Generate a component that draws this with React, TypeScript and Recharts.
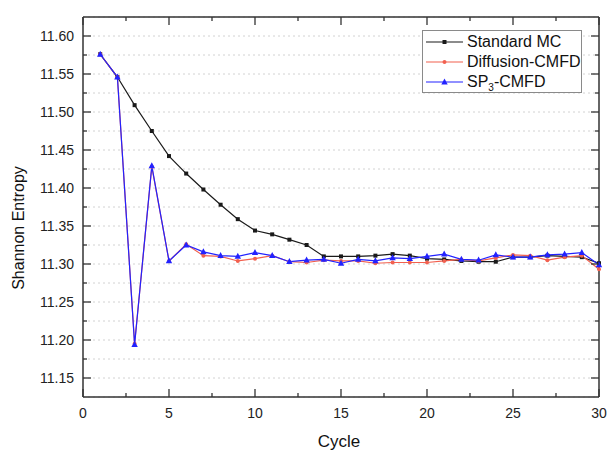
import React from 'react';
import { LineChart, Line, XAxis, YAxis, CartesianGrid, Legend } from 'recharts';

const cycles = [1, 2, 3, 4, 5, 6, 7, 8, 9, 10, 11, 12, 13, 14, 15, 16, 17, 18, 19, 20, 21, 22, 23, 24, 25, 26, 27, 28, 29, 30];

const standardMC = [
  11.576, 11.546, 11.509, 11.475, 11.442, 11.419, 11.398, 11.378, 11.359, 11.344,
  11.339, 11.332, 11.325, 11.310, 11.310, 11.310, 11.311, 11.313, 11.311, 11.307,
  11.306, 11.304, 11.303, 11.303, 11.309, 11.309, 11.311, 11.310, 11.309, 11.301,
];

const diffusionCMFD = [
  11.576, 11.546, 11.195, 11.428, 11.304, 11.326, 11.311, 11.310, 11.304, 11.307,
  11.311, 11.303, 11.302, 11.305, 11.304, 11.304, 11.301, 11.302, 11.302, 11.302,
  11.304, 11.306, 11.304, 11.308, 11.312, 11.311, 11.305, 11.309, 11.311, 11.293,
];

const sp3CMFD = [
  11.576, 11.546, 11.194, 11.429, 11.304, 11.325, 11.316, 11.311, 11.310, 11.315,
  11.311, 11.303, 11.305, 11.306, 11.301, 11.306, 11.304, 11.308, 11.307, 11.310,
  11.313, 11.306, 11.305, 11.312, 11.309, 11.309, 11.312, 11.313, 11.315, 11.299,
];

const xTicks = [0, 2.5, 5, 7.5, 10, 12.5, 15, 17.5, 20, 22.5, 25, 27.5, 30];
const yTicks = [
  11.15, 11.175, 11.2, 11.225, 11.25, 11.275, 11.3, 11.325, 11.35, 11.375,
  11.4, 11.425, 11.45, 11.475, 11.5, 11.525, 11.55, 11.575, 11.6,
];

const data = cycles.map((c, i) => ({
  cycle: c,
  mc: standardMC[i],
  diff: diffusionCMFD[i],
  sp3: sp3CMFD[i],
}));

const FONT = 'Arial, "Liberation Sans", Helvetica, sans-serif';
const AXIS_COLOR = '#333';
const BLACK = '#1a1a1a';
const RED = '#f2604f';
const BLUE = '#2222ff';

const isMajorY = (v: number) => Math.abs(v * 20 - Math.round(v * 20)) < 1e-6;
const isMajorX = (v: number) => Math.abs(v / 5 - Math.round(v / 5)) < 1e-6;

const LeftTick = (props: any) => {
  const { x, y, payload } = props;
  const v = payload.value;
  const major = isMajorY(v);
  return (
    <g>
      <line x1={x} y1={y} x2={x + (major ? 8 : 4)} y2={y} stroke={AXIS_COLOR} strokeWidth={1.3} />
      {major && (
        <text x={x - 9} y={y} dominantBaseline="central" textAnchor="end" fontSize={14} fill="#222" fontFamily={FONT}>
          {v.toFixed(2)}
        </text>
      )}
    </g>
  );
};

const RightTick = (props: any) => {
  const { x, y, payload } = props;
  const major = isMajorY(payload.value);
  return <line x1={x} y1={y} x2={x - (major ? 8 : 4)} y2={y} stroke={AXIS_COLOR} strokeWidth={1.3} />;
};

const BottomTick = (props: any) => {
  const { x, y, payload } = props;
  const v = payload.value;
  const major = isMajorX(v);
  return (
    <g>
      <line x1={x} y1={y} x2={x} y2={y - (major ? 8 : 4)} stroke={AXIS_COLOR} strokeWidth={1.3} />
      {major && (
        <text x={x} y={y + 16} dominantBaseline="central" textAnchor="middle" fontSize={14} fill="#222" fontFamily={FONT}>
          {String(v)}
        </text>
      )}
    </g>
  );
};

const TopTick = (props: any) => {
  const { x, y, payload } = props;
  const major = isMajorX(payload.value);
  return <line x1={x} y1={y} x2={x} y2={y + (major ? 8 : 4)} stroke={AXIS_COLOR} strokeWidth={1.3} />;
};

const SquareDot = (p: any) => (
  <rect key={`sq-${p.index}`} x={p.cx - 2} y={p.cy - 2} width={4} height={4} fill={BLACK} />
);
const CircleDot = (p: any) => (
  <circle key={`ci-${p.index}`} cx={p.cx} cy={p.cy} r={2} fill={RED} />
);
const TriDot = (p: any) => (
  <polygon
    key={`tr-${p.index}`}
    points={`${p.cx},${p.cy - 3.6} ${p.cx - 3.2},${p.cy + 2.4} ${p.cx + 3.2},${p.cy + 2.4}`}
    fill={BLUE}
  />
);

const YTitle = () => (
  <text
    x={18}
    y={228}
    transform="rotate(-90 18 228)"
    textAnchor="middle"
    dominantBaseline="central"
    fontSize={16}
    fill="#111"
    fontFamily={FONT}
  >
    Shannon Entropy
  </text>
);

const XTitle = () => (
  <text x={339} y={441} textAnchor="middle" dominantBaseline="central" fontSize={17} fill="#111" fontFamily={FONT}>
    Cycle
  </text>
);

const legendItems = [
  { key: 'mc', color: BLACK, shape: 'square' },
  { key: 'diff', color: RED, shape: 'circle' },
  { key: 'sp3', color: BLUE, shape: 'triangle' },
];

const LegendLabel = ({ k }: { k: string }) => {
  if (k === 'mc') return <span>Standard MC</span>;
  if (k === 'diff') return <span>Diffusion-CMFD</span>;
  return (
    <span>
      SP<sub style={{ fontSize: 10, verticalAlign: 'sub', lineHeight: 0 }}>3</sub>-CMFD
    </span>
  );
};

const LegendBox = () => (
  <div
    style={{
      width: 160,
      height: 63,
      boxSizing: 'border-box',
      border: '1px solid #8a8a8a',
      background: '#fff',
      fontFamily: FONT,
      fontSize: 16,
      color: '#111',
      paddingTop: 1,
    }}
  >
    {legendItems.map((it) => (
      <div key={it.key} style={{ display: 'flex', alignItems: 'center', height: 20 }}>
        <svg width={44} height={20} style={{ display: 'block' }}>
          <line x1={3} y1={10} x2={40} y2={10} stroke={it.color} strokeWidth={1.2} />
          {it.shape === 'square' && <rect x={19.5} y={8} width={4} height={4} fill={it.color} />}
          {it.shape === 'circle' && <circle cx={21.5} cy={10} r={2} fill={it.color} />}
          {it.shape === 'triangle' && <polygon points="21.5,6.4 18.3,12.4 24.7,12.4" fill={it.color} />}
        </svg>
        <LegendLabel k={it.key} />
      </div>
    ))}
  </div>
);

export default function App() {
  return (
    <div style={{ position: 'absolute', left: 0, top: 0, width: 608, height: 451 }}>
      <LineChart width={608} height={451} data={data} margin={{ top: 8, right: 0, bottom: 0, left: 8 }}>
        <CartesianGrid vertical={false} stroke="#d2d2d2" strokeDasharray="2 3" />
        <XAxis
          dataKey="cycle"
          type="number"
          domain={[0, 30]}
          ticks={xTicks}
          interval={0}
          height={54}
          tickSize={0}
          tickMargin={0}
          tickLine={false}
          tick={BottomTick}
          axisLine={{ stroke: AXIS_COLOR, strokeWidth: 1.5 }}
          label={XTitle}
        />
        <XAxis
          xAxisId="top"
          orientation="top"
          dataKey="cycle"
          type="number"
          domain={[0, 30]}
          ticks={xTicks}
          interval={0}
          height={9}
          tickSize={0}
          tickMargin={0}
          tickLine={false}
          tick={TopTick}
          axisLine={{ stroke: AXIS_COLOR, strokeWidth: 1.5 }}
        />
        <YAxis
          type="number"
          domain={[11.125, 11.625]}
          allowDataOverflow
          ticks={yTicks}
          interval={0}
          width={75}
          tickSize={0}
          tickMargin={0}
          tickLine={false}
          tick={LeftTick}
          axisLine={{ stroke: AXIS_COLOR, strokeWidth: 1.5 }}
          label={YTitle}
        />
        <YAxis
          yAxisId="right"
          orientation="right"
          type="number"
          domain={[11.125, 11.625]}
          allowDataOverflow
          ticks={yTicks}
          interval={0}
          width={9}
          tickSize={0}
          tickMargin={0}
          tickLine={false}
          tick={RightTick}
          axisLine={{ stroke: AXIS_COLOR, strokeWidth: 1.5 }}
        />
        <Legend
          layout="vertical"
          align="center"
          verticalAlign="middle"
          content={LegendBox}
          wrapperStyle={{ position: 'absolute', left: 422, top: 30, width: 160, height: 63 }}
        />
        <Line
          type="linear"
          dataKey="mc"
          name="Standard MC"
          stroke={BLACK}
          strokeWidth={1.2}
          dot={SquareDot}
          activeDot={false}
          isAnimationActive={false}
        />
        <Line
          type="linear"
          dataKey="diff"
          name="Diffusion-CMFD"
          stroke={RED}
          strokeWidth={1.2}
          dot={CircleDot}
          activeDot={false}
          isAnimationActive={false}
        />
        <Line
          type="linear"
          dataKey="sp3"
          name="SP3-CMFD"
          stroke={BLUE}
          strokeWidth={1.2}
          dot={TriDot}
          activeDot={false}
          isAnimationActive={false}
        />
      </LineChart>
    </div>
  );
}
